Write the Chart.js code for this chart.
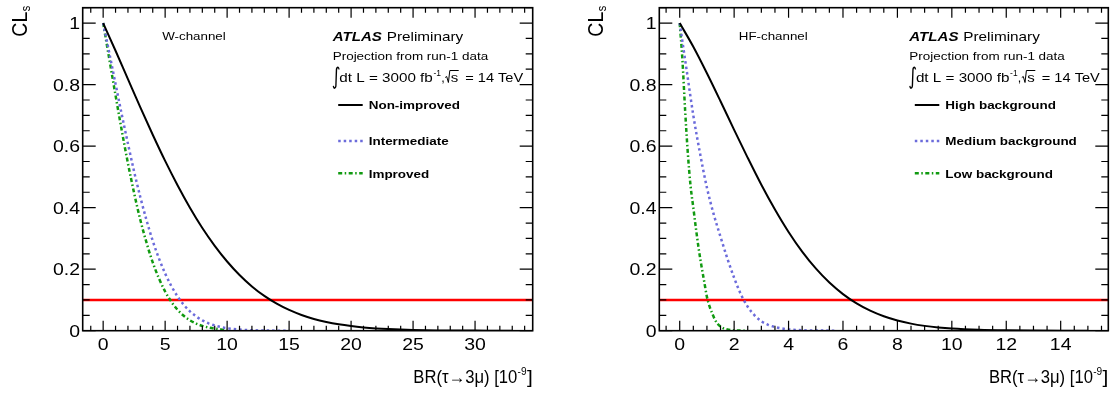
<!DOCTYPE html>
<html>
<head>
<meta charset="utf-8">
<script src="https://cdn.jsdelivr.net/npm/chart.js@4.4.1/dist/chart.umd.min.js"></script>
<style>
  html, body { margin: 0; padding: 0; background: #fff; }
  #wrap { position: relative; width: 1113px; height: 394px; overflow: hidden; }
  canvas { position: absolute; top: 0; }
</style>
</head>
<body>
<div id="wrap">
  <canvas id="wChart" width="556" height="394" style="left:0px"></canvas>
  <canvas id="hfChart" width="557" height="394" style="left:556px"></canvas>
</div>
<script>
// ---- Datos ----

// Límite (línea roja) en CLs
const clsLimit = 0.1;

// Panel izquierdo: W-channel
const wLabels = ['Non-improved', 'Intermediate', 'Improved'];
const wNonImprovedX = [0, 1, 2, 3, 4, 5, 6, 7, 8, 9, 10, 11, 12, 13, 14, 15, 16, 17, 18, 19, 20,
  21, 22, 23, 24, 25, 26, 27, 28, 29, 30, 31, 32, 33];
const wNonImprovedY = [1, 0.910, 0.818, 0.726, 0.637, 0.552, 0.473, 0.400, 0.334, 0.276, 0.225,
  0.181, 0.144, 0.113, 0.088, 0.0675, 0.0512, 0.0383, 0.0284, 0.0207, 0.0150,
  0.0107, 0.0075, 0.0052, 0.0036, 0.0024, 0.0016, 0.0010, 0.0007, 0.0004, 0.0003, 0.0002, 0.0001, 0.0001];
const wIntermediateX = [0, 0.5, 1, 1.5, 2, 2.5, 3, 3.5, 4, 4.5, 5, 5.5, 6, 6.5, 7, 7.5, 8, 8.5, 9, 9.5, 10,
  11, 12, 13, 14, 15];
const wIntermediateY = [1, 0.902, 0.802, 0.703, 0.608, 0.517, 0.434, 0.359, 0.292, 0.235, 0.186,
  0.145, 0.1115, 0.0845, 0.0631, 0.0465, 0.0337, 0.0241, 0.0170, 0.0118, 0.0081,
  0.0036, 0.0015, 0.0006, 0.0002, 0.0001];
const wImprovedX = [0, 0.5, 1, 1.5, 2, 2.5, 3, 3.5, 4, 4.5, 5, 5.5, 6, 6.5, 7, 7.5, 8, 8.5, 9, 9.5, 10];
const wImprovedY = [1, 0.882, 0.765, 0.651, 0.544, 0.447, 0.360, 0.286, 0.222, 0.170, 0.1275,
  0.094, 0.068, 0.0484, 0.0338, 0.0232, 0.0157, 0.0104, 0.0067, 0.0043, 0.0027];

// Panel derecho: HF-channel
const hfLabels = ['High background', 'Medium background', 'Low background'];
const hfHighX = [0, 0.5, 1, 1.5, 2, 2.5, 3, 3.5, 4, 4.5, 5, 5.5, 6, 6.5, 7, 7.5, 8, 8.5, 9, 9.5, 10,
  11, 12, 13, 14, 15];
const hfHighY = [1, 0.923, 0.837, 0.746, 0.653, 0.562, 0.4745, 0.394, 0.321, 0.257, 0.2024,
  0.1565, 0.119, 0.0887, 0.065, 0.0468, 0.0331, 0.0230, 0.0157, 0.0105, 0.0069,
  0.0029, 0.0011, 0.0004, 0.0001, 0];
const hfMediumX = [0, 0.25, 0.5, 0.75, 1, 1.25, 1.5, 1.75, 2, 2.25, 2.5, 2.75, 3, 3.25, 3.5, 3.75, 4,
  4.5, 5, 5.5, 5.75];
const hfMediumY = [1, 0.85, 0.70, 0.575, 0.465, 0.378, 0.305, 0.235, 0.172, 0.118, 0.078, 0.050, 0.031,
  0.019, 0.012, 0.0072, 0.0042, 0.0015, 0.0006, 0.0002, 0.0001];
const hfLowX = [0, 0.1, 0.2, 0.3, 0.4, 0.5, 0.6, 0.7, 0.8, 0.9, 1.0, 1.1, 1.2, 1.3, 1.4, 1.5, 1.6,
  1.7, 1.8, 2.0, 2.2, 2.4];
const hfLowY = [1, 0.88, 0.715, 0.575, 0.47, 0.40, 0.33, 0.265, 0.21, 0.16, 0.11, 0.078, 0.055,
  0.035, 0.022, 0.014, 0.008, 0.005, 0.003, 0.001, 0.0003, 0.0001];

// Ejes y marcas
const yMajorTicks = [0, 0.2, 0.4, 0.6, 0.8, 1];
const yMinorTicks = [0.05, 0.1, 0.15, 0.25, 0.3, 0.35, 0.45, 0.5, 0.55, 0.65, 0.7, 0.75, 0.85, 0.9, 0.95, 1.05];
const wXMajorTicks = [0, 5, 10, 15, 20, 25, 30];
const wXMinorTicks = [-1, 1, 2, 3, 4, 6, 7, 8, 9, 11, 12, 13, 14, 16, 17, 18, 19, 21, 22, 23, 24,
  26, 27, 28, 29, 31, 32, 33, 34];
const hfXMajorTicks = [0, 2, 4, 6, 8, 10, 12, 14];
const hfXMinorTicks = [-0.5, 0.5, 1, 1.5, 2.5, 3, 3.5, 4.5, 5, 5.5, 6.5, 7, 7.5, 8.5, 9, 9.5,
  10.5, 11, 11.5, 12.5, 13, 13.5, 14.5, 15, 15.5];

// ---- Estilos ----
const FONT = '"Liberation Sans", Arial, Helvetica, sans-serif';
const SX = 1.16; // el original tiene el texto algo ensanchado
const STYLES = [
  { color: '#000000', width: 2, dash: [] },
  { color: '#6b6bdb', width: 2.5, dash: [2.5, 3] },
  { color: '#109a10', width: 2.5, dash: [4, 2.5, 1.5, 2.5] }
];

function toPoints(xs, ys) {
  return xs.map((x, i) => ({ x: x, y: ys[i] }));
}

// Texto ensanchado horizontalmente; devuelve el ancho dibujado
function stretchText(ctx, text, x, y, font, align, sx) {
  sx = sx || SX;
  ctx.save();
  ctx.font = font;
  const w = ctx.measureText(text).width * sx;
  let x0 = x;
  if (align === 'right') x0 = x - w;
  else if (align === 'center') x0 = x - w / 2;
  ctx.translate(x0, y);
  ctx.scale(sx, 1);
  ctx.textAlign = 'left';
  ctx.fillText(text, 0, 0);
  ctx.restore();
  return w;
}

// Texto ajustado a un ancho dado
function fitText(ctx, text, x, y, font, width) {
  ctx.font = font;
  const sx = width / ctx.measureText(text).width;
  return stretchText(ctx, text, x, y, font, 'left', sx);
}

/**
 * Marco estilo ROOT: caja, marcas hacia dentro, etiquetas, textos, leyenda y títulos.
 */
const atlasFrame = {
  id: 'atlasFrame',
  afterDraw(chart, args, o) {
    const ctx = chart.ctx;
    const a = chart.chartArea;
    const sx = chart.scales.x;
    const sy = chart.scales.y;
    ctx.save();

    // Marcas
    ctx.strokeStyle = '#000';
    ctx.lineWidth = 1.2;
    ctx.beginPath();
    const xTick = (v, len) => {
      const px = sx.getPixelForValue(v);
      if (px < a.left || px > a.right) return;
      ctx.moveTo(px, a.bottom); ctx.lineTo(px, a.bottom - len);
      ctx.moveTo(px, a.top); ctx.lineTo(px, a.top + len);
    };
    const yTick = (v, len) => {
      const py = sy.getPixelForValue(v);
      if (py < a.top - 0.5 || py > a.bottom) return;
      ctx.moveTo(a.left, py); ctx.lineTo(a.left + len, py);
      ctx.moveTo(a.right, py); ctx.lineTo(a.right - len, py);
    };
    o.xMajor.forEach(v => xTick(v, 10));
    o.xMinor.forEach(v => xTick(v, 5));
    yMajorTicks.forEach(v => yTick(v, 13));
    yMinorTicks.forEach(v => yTick(v, 7));
    ctx.stroke();

    // Caja
    ctx.lineWidth = 1.6;
    ctx.strokeRect(a.left, a.top, a.right - a.left, a.bottom - a.top);

    const L = a.left;
    ctx.fillStyle = '#000';
    ctx.textBaseline = 'alphabetic';

    // Etiquetas de los ejes
    const tickFont = '16.8px ' + FONT;
    o.xMajor.forEach(v => {
      stretchText(ctx, String(v), sx.getPixelForValue(v), 350, tickFont, 'center');
    });
    yMajorTicks.forEach(v => {
      stretchText(ctx, String(v), L - 2.7, sy.getPixelForValue(v) + 6, tickFont, 'right');
    });

    // Canal
    stretchText(ctx, o.channel, L + 79.5, 40, '11.5px ' + FONT, 'left');

    // ATLAS Preliminary
    stretchText(ctx, 'ATLAS', L + 250, 41, 'italic bold 13px ' + FONT, 'left');
    stretchText(ctx, 'Preliminary', L + 304, 41, '13.2px ' + FONT, 'left');
    stretchText(ctx, 'Projection from run-1 data', L + 250, 60, '11.6px ' + FONT, 'left');

    // Línea de luminosidad
    const base = 81.5;
    ctx.save();
    ctx.translate(L + 249, base + 2.5);
    ctx.scale(1, 1.35);
    ctx.font = '17px "DejaVu Sans", ' + FONT;
    ctx.fillText('\u222B', 0, 0);
    ctx.restore();
    const lumFont = '13px ' + FONT;
    fitText(ctx, 'dt L = 3000 fb', L + 256.6, base, lumFont, 93.5);
    fitText(ctx, '-1', L + 350.8, base - 6, '9px ' + FONT, 7.5);
    fitText(ctx, ',', L + 358.5, base, lumFont, 3.5);
    // raíz cuadrada
    const rx = L + 362.5;
    ctx.strokeStyle = '#000';
    ctx.lineWidth = 1;
    ctx.beginPath();
    ctx.moveTo(rx, base - 4);
    ctx.lineTo(rx + 1.5, base - 5);
    ctx.lineTo(rx + 3.2, base + 1);
    ctx.lineTo(rx + 4.6, base - 11);
    ctx.lineTo(rx + 13.5, base - 11);
    ctx.stroke();
    fitText(ctx, 's', rx + 5.5, base, lumFont, 7.5);
    fitText(ctx, '= 14 TeV', L + 382.5, base, lumFont, 58);

    // Leyenda
    const legendY = [105, 141, 173.3];
    o.labels.forEach((lab, i) => {
      const st = STYLES[i];
      ctx.strokeStyle = st.color;
      ctx.lineWidth = st.width;
      ctx.setLineDash(st.dash);
      ctx.beginPath();
      ctx.moveTo(L + 255.5, legendY[i]);
      ctx.lineTo(L + 280, legendY[i]);
      ctx.stroke();
      ctx.setLineDash([]);
      ctx.fillStyle = '#000';
      stretchText(ctx, lab, L + 286, legendY[i] + 4.2, 'bold 11.6px ' + FONT, 'left');
    });

    // Título eje X: BR(τ→3μ) [10^-9]
    const tb = 383;
    ctx.font = '18px ' + FONT;
    const brkW = ctx.measureText(']').width * SX;
    stretchText(ctx, ']', a.right, tb, '18px ' + FONT, 'right');
    const supW = 9;
    const supX = a.right - brkW - 0.3 - supW;
    fitText(ctx, '-9', supX, tb - 8.5, '11.5px ' + FONT, supW);
    const brW = 104;
    fitText(ctx, 'BR(\u03C4\u2192' + '3\u03BC) [10', supX - 0.3 - brW, tb, '18px ' + FONT, brW);

    // Título eje Y: CL_s
    ctx.save();
    ctx.translate(L - 56, 36.7);
    ctx.rotate(-Math.PI / 2);
    ctx.scale(1, SX);
    ctx.textAlign = 'left';
    ctx.font = '19.5px ' + FONT;
    const clW = ctx.measureText('CL').width;
    ctx.fillText('CL', 0, 0);
    ctx.font = '11px ' + FONT;
    ctx.fillText('s', clW + 0.5, 2.6);
    ctx.restore();

    ctx.restore();
  }
};

function buildPanel(canvasId, cfg) {
  const canvas = document.getElementById(canvasId);
  const areaTop = 7.7;
  const areaBottom = 330.7;
  const datasets = cfg.series.map((s, i) => ({
    label: cfg.labels[i],
    data: toPoints(s.x, s.y),
    borderColor: STYLES[i].color,
    borderWidth: STYLES[i].width,
    borderDash: STYLES[i].dash,
    cubicInterpolationMode: 'monotone',
    fill: false
  }));
  // Línea del límite CLs = 0.1
  datasets.push({
    label: 'limit',
    data: [{ x: cfg.xMin, y: clsLimit }, { x: cfg.xMax, y: clsLimit }],
    borderColor: '#ff0000',
    borderWidth: 2.6,
    fill: false
  });

  return new Chart(canvas, {
    type: 'line',
    data: { datasets: datasets },
    options: {
      responsive: false,
      animation: false,
      events: [],
      elements: { point: { radius: 0 } },
      layout: { padding: { top: areaTop, right: canvas.width - cfg.areaRight, left: 0, bottom: 0 } },
      plugins: {
        legend: { display: false },
        tooltip: { enabled: false },
        atlasFrame: cfg
      },
      scales: {
        x: {
          type: 'linear',
          min: cfg.xMin,
          max: cfg.xMax,
          grid: { display: false, drawTicks: false },
          border: { display: false },
          ticks: { display: false },
          afterBuildTicks: s => { s.ticks = cfg.xMajor.map(v => ({ value: v })); },
          afterFit: s => { s.height = 394 - areaBottom; }
        },
        y: {
          type: 'linear',
          min: 0,
          max: 1.05,
          grid: { display: false, drawTicks: false },
          border: { display: false },
          ticks: { display: false },
          afterBuildTicks: s => { s.ticks = yMajorTicks.map(v => ({ value: v })); },
          afterFit: s => { s.width = cfg.areaLeft; }
        }
      }
    },
    plugins: [atlasFrame]
  });
}

buildPanel('wChart', {
  channel: 'W-channel',
  labels: wLabels,
  series: [
    { x: wNonImprovedX, y: wNonImprovedY },
    { x: wIntermediateX, y: wIntermediateY },
    { x: wImprovedX, y: wImprovedY }
  ],
  xMin: -1.65, xMax: 34.65,
  xMajor: wXMajorTicks, xMinor: wXMinorTicks,
  areaLeft: 82.7, areaRight: 532.7
});

buildPanel('hfChart', {
  channel: 'HF-channel',
  labels: hfLabels,
  series: [
    { x: hfHighX, y: hfHighY },
    { x: hfMediumX, y: hfMediumY },
    { x: hfLowX, y: hfLowY }
  ],
  xMin: -0.75, xMax: 15.75,
  xMajor: hfXMajorTicks, xMinor: hfXMinorTicks,
  areaLeft: 103.3, areaRight: 552.3
});
</script>
</body>
</html>
